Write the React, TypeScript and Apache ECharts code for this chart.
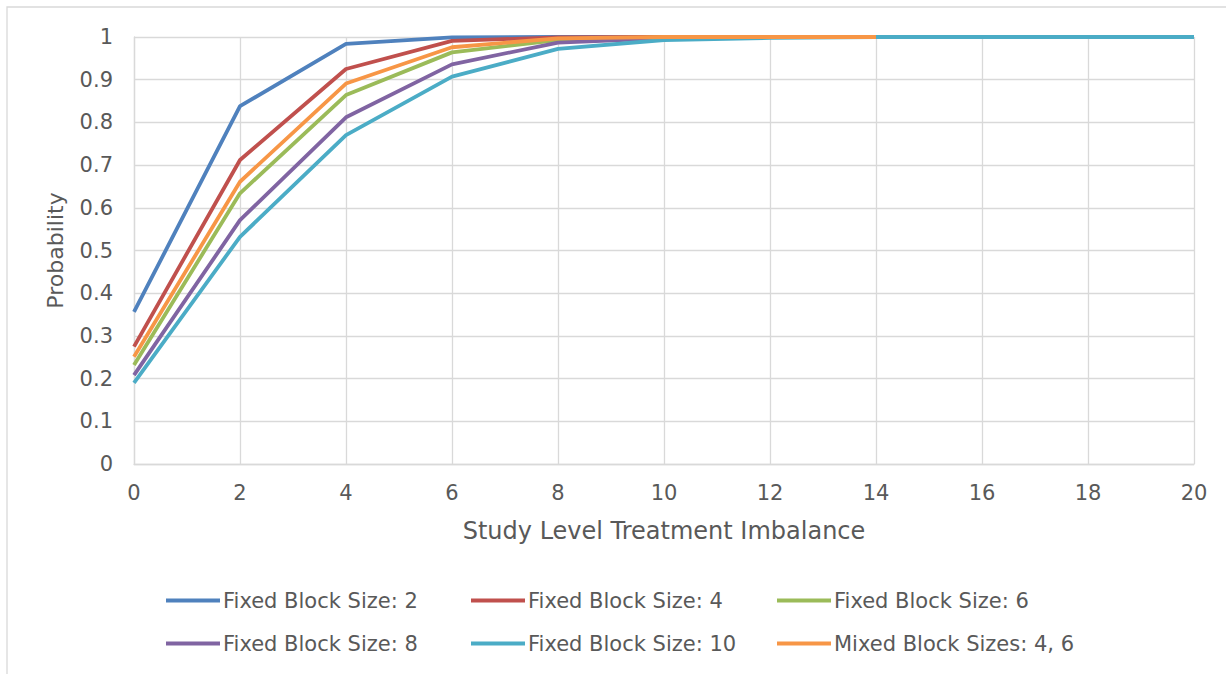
import React, { useEffect, useRef } from "react";
import * as echarts from "echarts";

const xValues = [0, 2, 4, 6, 8, 10, 12, 14, 16, 18, 20];
const seriesNames = [
  "Fixed Block Size: 2",
  "Fixed Block Size: 4",
  "Fixed Block Size: 6",
  "Fixed Block Size: 8",
  "Fixed Block Size: 10",
  "Mixed Block Sizes: 4, 6",
];
const block2 = [0.356, 0.838, 0.984, 0.999, 1, 1, 1, 1, 1, 1, 1];
const block4 = [0.275, 0.712, 0.925, 0.991, 0.999, 1, 1, 1, 1, 1, 1];
const block6 = [0.232, 0.634, 0.864, 0.964, 0.993, 0.999, 1, 1, 1, 1, 1];
const block8 = [0.208, 0.571, 0.812, 0.936, 0.987, 0.997, 1, 1, 1, 1, 1];
const block10 = [0.19, 0.532, 0.77, 0.907, 0.972, 0.993, 0.998, 1, 1, 1, 1];
const mixed46 = [0.251, 0.661, 0.891, 0.976, 0.997, 1, 1, 1];
const seriesValues = [block2, block4, block6, block8, block10, mixed46];
const colors = ["#4F81BD", "#C0504D", "#9BBB59", "#8064A2", "#4BACC6", "#F79646"];

const FONT = "DejaVu Sans";
const TEXT = "#595959";

export default function App() {
  const ref = useRef<HTMLDivElement>(null);
  useEffect(() => {
    if (!ref.current) return;
    const chart = echarts.init(ref.current, undefined, { renderer: "svg" });
    const legendPos = [
      [166, 590],
      [471, 590],
      [777, 590],
      [166, 633],
      [471, 633],
      [777, 633],
    ];
    chart.setOption({
      animation: false,
      grid: { left: 134, right: 32, top: 37, bottom: 210, containLabel: false },
      xAxis: {
        type: "value",
        min: 0,
        max: 20,
        interval: 2,
        name: "Study Level Treatment Imbalance",
        nameLocation: "middle",
        nameGap: 55,
        nameTextStyle: { color: TEXT, fontFamily: FONT, fontSize: 24 },
        axisLine: { show: true, lineStyle: { color: "#d9d9d9", width: 1.3 } },
        axisTick: { show: false },
        axisLabel: { color: TEXT, fontFamily: FONT, fontSize: 21, margin: 18 },
        splitLine: { show: true, lineStyle: { color: "#d9d9d9", width: 1.3 } },
      },
      yAxis: {
        type: "value",
        min: 0,
        max: 1,
        interval: 0.1,
        name: "Probability",
        nameLocation: "middle",
        nameGap: 68,
        nameTextStyle: { color: TEXT, fontFamily: FONT, fontSize: 22 },
        axisLine: { show: true, lineStyle: { color: "#d9d9d9", width: 1.3 } },
        axisTick: { show: false },
        axisLabel: {
          color: TEXT,
          fontFamily: FONT,
          fontSize: 21,
          margin: 21,
          formatter: (v: number) => String(Math.round(v * 10) / 10),
        },
        splitLine: { show: true, lineStyle: { color: "#d9d9d9", width: 1.3 } },
      },
      legend: seriesNames.map((n, i) => ({
        data: [n],
        left: legendPos[i][0],
        top: legendPos[i][1],
        itemWidth: 54,
        itemHeight: 4,
        itemGap: 4,
        icon: "rect",
        padding: 0,
        textStyle: { color: TEXT, fontFamily: FONT, fontSize: 21, padding: [0, 0, 0, -2] },
      })),
      graphic: [
        {
          type: "rect",
          shape: { x: 7, y: 7, width: 1240, height: 700 },
          style: { fill: "none", stroke: "#d9d9d9", lineWidth: 1.3 },
          silent: true,
        },
      ],
      series: seriesNames.map((n, i) => ({
        name: n,
        type: "line",
        data: seriesValues[i].map((v, j) => [xValues[j], v]),
        showSymbol: false,
        symbol: "none",
        lineStyle: { color: colors[i], width: 3.8 },
        itemStyle: { color: colors[i] },
        clip: false,
      })),
    });
    return () => chart.dispose();
  }, []);
  return (
    <div
      ref={ref}
      style={{ position: "fixed", left: 0, top: 0, width: 1226, height: 674, background: "#fff" }}
    />
  );
}
